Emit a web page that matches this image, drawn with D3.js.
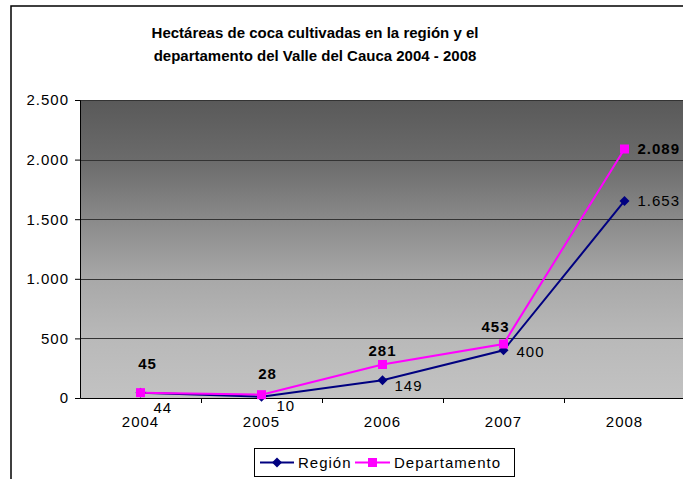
<!DOCTYPE html>
<html><head><meta charset="utf-8">
<script src="https://cdn.jsdelivr.net/npm/d3@7"></script>
<style>
body{margin:0;background:#fff;}
svg{display:block;font-family:"Liberation Sans",Arial,sans-serif;}
</style></head><body>
<svg id="c" width="683" height="479"></svg>
<script>
const categories = ["2004","2005","2006","2007","2008"];
const region = [44, 10, 149, 400, 1653];
const departamento = [45, 28, 281, 453, 2089];
const yTicks = [0, 500, 1000, 1500, 2000, 2500];
const titleLines = ["Hectáreas de coca cultivadas en la región y el", "departamento del Valle del Cauca 2004 - 2008"];
const seriesNames = ["Región", "Departamento"];

const loc = d3.formatLocale({decimal:",", thousands:".", grouping:[3], currency:["$",""]});
const fmt = loc.format(",d");

const svg = d3.select("#c");
const W = 683, H = 479;
const m = {left:80, top:100, right:-2, bottom:81};
const pw = W - m.left - m.right, ph = H - m.top - m.bottom;
const FS = 15, LS = "1px";

// outer chart border
svg.append("rect").attr("x",11).attr("y",6).attr("width",700).attr("height",500)
  .attr("fill","none").attr("stroke","#000").attr("stroke-width",1.5);

// title
const t = svg.append("text").attr("text-anchor","middle").attr("font-weight","bold")
  .attr("font-size",15).attr("fill","#000");
titleLines.forEach((l,i)=>t.append("tspan").attr("x",315).attr("y",38+i*23).text(l));

const x = d3.scaleBand().domain(categories).range([m.left, m.left+pw]);
const y = d3.scaleLinear().domain([0,2500]).range([m.top+ph, m.top]);

const defs = svg.append("defs");
const g = defs.append("linearGradient").attr("id","bg").attr("x1",0).attr("y1",0).attr("x2",0).attr("y2",1);
[[0,"#595959"],[0.2,"#6b6b6b"],[0.6,"#a8a8a8"],[0.8,"#b9b9b9"],[1,"#c2c2c2"]]
  .forEach(s=>g.append("stop").attr("offset",s[0]).attr("stop-color",s[1]));

svg.append("rect").attr("x",m.left).attr("y",m.top).attr("width",pw).attr("height",ph)
  .attr("fill","url(#bg)");

// gridlines
svg.append("g").selectAll("line").data(yTicks.filter(d=>d>0)).join("line")
  .attr("x1",m.left).attr("x2",m.left+pw).attr("y1",d=>Math.round(y(d))+0.5).attr("y2",d=>Math.round(y(d))+0.5)
  .attr("stroke","#333").attr("stroke-width",1);

// y axis
const ya = svg.append("g").attr("transform",`translate(${m.left},0)`)
  .call(d3.axisLeft(y).tickValues(yTicks).tickFormat(fmt).tickSize(5).tickPadding(6));
ya.select(".domain").attr("stroke","#000");
ya.selectAll("text").attr("font-size",FS).attr("fill","#000").attr("font-family","Liberation Sans, Arial").attr("letter-spacing",LS);

// x axis
const xa = svg.append("g").attr("transform",`translate(0,${m.top+ph})`)
  .call(d3.axisBottom(x).tickSize(0).tickPadding(18));
xa.select(".domain").attr("stroke","#000");
xa.selectAll("text").attr("font-size",FS).attr("fill","#000").attr("font-family","Liberation Sans, Arial").attr("letter-spacing",LS);
svg.append("g").selectAll("line").data(categories.slice(1)).join("line")
  .attr("x1",d=>Math.round(x(d))+0.5).attr("x2",d=>Math.round(x(d))+0.5)
  .attr("y1",m.top+ph).attr("y2",m.top+ph+5).attr("stroke","#000");

const cx = d => x(d) + x.bandwidth()/2;
const line = d3.line().x((d,i)=>cx(categories[i])).y(d=>y(d));

const colors = ["#000080","#ff00ff"];
const data = [region, departamento];

[0,1].forEach(s=>{
  svg.append("path").datum(data[s]).attr("d",line).attr("fill","none")
    .attr("stroke",colors[s]).attr("stroke-width",2);
});
// markers
svg.append("g").selectAll("path").data(region).join("path")
  .attr("transform",(d,i)=>`translate(${cx(categories[i])},${y(d)})`)
  .attr("d","M0,-5L5,0L0,5L-5,0Z").attr("fill",colors[0]);
svg.append("g").selectAll("rect").data(departamento).join("rect")
  .attr("x",(d,i)=>cx(categories[i])-4.5).attr("y",d=>y(d)-4.5)
  .attr("width",9).attr("height",9).attr("fill",colors[1]);

// label layout offsets (dx, dy of text baseline relative to point)
const regOff = [[13,20],[15,14],[12,11],[13,7],[13,5]];
const depOff = [[7,-24],[6,-16],[0,-9],[-8,-12],[13,5]];
const regAnchor = ["start","start","start","start","start"];
const depAnchor = ["middle","middle","middle","middle","start"];

svg.append("g").selectAll("text").data(region).join("text")
  .attr("x",(d,i)=>cx(categories[i])+regOff[i][0]).attr("y",(d,i)=>y(d)+regOff[i][1])
  .attr("text-anchor",(d,i)=>regAnchor[i]).attr("font-size",FS).attr("fill","#000")
  .attr("letter-spacing",LS).text(fmt);
svg.append("g").selectAll("text").data(departamento).join("text")
  .attr("x",(d,i)=>cx(categories[i])+depOff[i][0]).attr("y",(d,i)=>y(d)+depOff[i][1])
  .attr("text-anchor",(d,i)=>depAnchor[i]).attr("font-size",FS).attr("font-weight","bold").attr("fill","#000")
  .attr("letter-spacing",LS).text(fmt);

// legend
const lg = svg.append("g");
lg.append("rect").attr("x",254.5).attr("y",448.5).attr("width",260).attr("height",28)
  .attr("fill","#fff").attr("stroke","#000").attr("stroke-width",1);
const items = [{x0:260,x1:294,tx:298},{x0:355,x1:390,tx:394}];
items.forEach((it,i)=>{
  const yy = 462.5;
  lg.append("line").attr("x1",it.x0).attr("x2",it.x1).attr("y1",yy).attr("y2",yy)
    .attr("stroke",colors[i]).attr("stroke-width",2);
  const mx=(it.x0+it.x1)/2;
  if(i===0) lg.append("path").attr("d",`M${mx},${yy-5}L${mx+5},${yy}L${mx},${yy+5}L${mx-5},${yy}Z`).attr("fill",colors[0]);
  else lg.append("rect").attr("x",mx-4.5).attr("y",yy-4.5).attr("width",9).attr("height",9).attr("fill",colors[1]);
  lg.append("text").attr("x",it.tx).attr("y",yy+5.5).attr("font-size",FS).attr("fill","#000")
    .attr("letter-spacing",LS).text(seriesNames[i]);
});
</script>
</body></html>
